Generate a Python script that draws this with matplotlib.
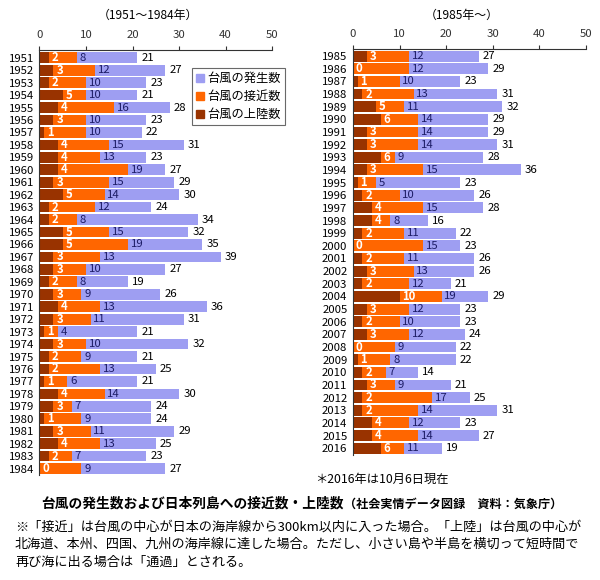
import matplotlib
matplotlib.use("Agg")
import matplotlib.pyplot as plt
from matplotlib.patches import Patch

plt.rcParams['font.family'] = ['Noto Sans CJK JP', 'DejaVu Sans']

# data: landfall, approach, occurrence
years_a = [str(y) for y in range(1951, 1985)]
landfall_a = [2, 3, 2, 5, 4, 3, 1, 4, 4, 4, 3, 5, 2, 2, 5, 5, 3, 3, 2, 3, 4, 3, 1, 3,
              2, 2, 1, 4, 3, 1, 3, 4, 2, 0]
approach_a = [8, 12, 10, 10, 16, 10, 10, 15, 13, 19, 15, 14, 12, 8, 15, 19, 13, 10, 8, 9,
              13, 11, 4, 10, 9, 13, 6, 14, 7, 9, 11, 13, 7, 9]
occur_a = [21, 27, 23, 21, 28, 23, 22, 31, 23, 27, 29, 30, 24, 34, 32, 35, 39, 27, 19, 26,
           36, 31, 21, 32, 21, 25, 21, 30, 24, 24, 29, 25, 23, 27]

years_b = [str(y) for y in range(1985, 2017)]
landfall_b = [3, 0, 1, 2, 5, 6, 3, 3, 6, 3, 1, 2, 4, 4, 2, 0, 2, 3, 2, 10, 3, 2, 3, 0,
              1, 2, 3, 2, 2, 4, 4, 6]
approach_b = [12, 12, 10, 13, 11, 14, 14, 14, 9, 15, 5, 10, 15, 8, 11, 15, 11, 13, 12, 19,
              12, 10, 12, 9, 8, 7, 9, 17, 14, 12, 14, 11]
occur_b = [27, 29, 23, 31, 32, 29, 29, 31, 28, 36, 23, 26, 28, 16, 22, 23, 26, 26, 21, 29,
           23, 23, 24, 22, 22, 14, 21, 25, 31, 23, 27, 19]

c_occ = '#9e9ef2'
c_app = '#ff6600'
c_land = '#993300'
c_applabel = '#1c1c66'

W, H = 600, 580
fig = plt.figure(figsize=(6, 5.8), dpi=100)


def panel(x0, x1, top, spacing, top_pad, bot_pad, years, land, app, occ):
    n = len(years)
    rows = n - 1 + top_pad + bot_pad
    h = rows * spacing
    ax = fig.add_axes([x0 / W, 1 - (top + h) / H, (x1 - x0) / W, h / H])
    y = list(range(n))
    ax.barh(y, occ, height=0.86, color=c_occ)
    ax.barh(y, app, height=0.86, color=c_app)
    ax.barh(y, land, height=0.86, color=c_land)
    for i in range(n):
        ax.annotate(str(land[i]), (land[i], i), xytext=(2, 0), textcoords='offset points',
                    ha='left', va='center', color='white', fontweight='bold', fontsize=8.2)
        ax.annotate(str(app[i]), (app[i], i), xytext=(2, 0), textcoords='offset points',
                    ha='left', va='center', color=c_applabel, fontsize=8.2)
        ax.annotate(str(occ[i]), (occ[i], i), xytext=(3, 0), textcoords='offset points',
                    ha='left', va='center', color='black', fontsize=8.2)
    ax.set_xlim(0, 50)
    ax.set_ylim(n - 1 + bot_pad, -top_pad)
    ax.set_yticks(y)
    ax.set_yticklabels(years, fontsize=8.2)
    ax.tick_params(axis='y', length=0, pad=4)
    ax.xaxis.tick_top()
    ax.set_xticks([0, 10, 20, 30, 40, 50])
    ax.tick_params(axis='x', labelsize=8.2, length=3, pad=4, colors='#333333')
    ax.spines['right'].set_visible(False)
    ax.spines['bottom'].set_visible(False)
    ax.spines['left'].set_color('#333333')
    ax.spines['top'].set_color('#333333')
    ax.spines['left'].set_linewidth(0.8)
    ax.spines['top'].set_linewidth(0.8)
    return ax


ax1 = panel(39.5, 272, 50, 12.45, 0.62, 0.5, years_a, landfall_a, approach_a, occur_a)
ax2 = panel(353, 586, 49, 12.65, 0.56, 0.55, years_b, landfall_b, approach_b, occur_b)

handles = [Patch(color=c_occ), Patch(color=c_app), Patch(color=c_land)]
labels = ['台風の発生数', '台風の接近数', '台風の上陸数']
leg = ax1.legend(handles, labels, loc='upper left', bbox_to_anchor=(0.655, 0.958),
                 fontsize=8.8, frameon=True, fancybox=False, edgecolor='#444444',
                 handlelength=0.65, handleheight=0.65, handletextpad=0.25,
                 labelspacing=0.4, borderpad=0.35, borderaxespad=0)
leg.get_frame().set_linewidth(0.8)

fig.text(148 / W, 1 - 15 / H, '（1951～1984年）', ha='center', va='center', fontsize=8.6)
fig.text(462 / W, 1 - 15 / H, '（1985年～）', ha='center', va='center', fontsize=8.6)
fig.text(315 / W, 1 - 479 / H, '＊2016年は10月6日現在', ha='left', va='center', fontsize=8.8)

# main title, with the source note placed right after it
title = fig.text(41 / W, 1 - 504 / H, '台風の発生数および日本列島への接近数・上陸数',
                 ha='left', va='center', fontsize=9.9, fontweight='bold')
ax2.annotate('（社会実情データ図録　資料：気象庁）', xy=(1, 0.5), xycoords=title,
             xytext=(0, 0), textcoords='offset points', ha='left', va='center',
             fontsize=8.7, fontweight='bold', annotation_clip=False)

notes = ['※「接近」は台風の中心が日本の海岸線から300km以内に入った場合。「上陸」は台風の中心が',
         '北海道、本州、四国、九州の海岸線に達した場合。ただし、小さい島や半島を横切って短時間で',
         '再び海に出る場合は「通過」とされる。']
for k, line in enumerate(notes):
    fig.text(15 / W, 1 - (527 + 17.5 * k) / H, line, ha='left', va='center', fontsize=9.45)

plt.savefig('out.png', dpi=100)
